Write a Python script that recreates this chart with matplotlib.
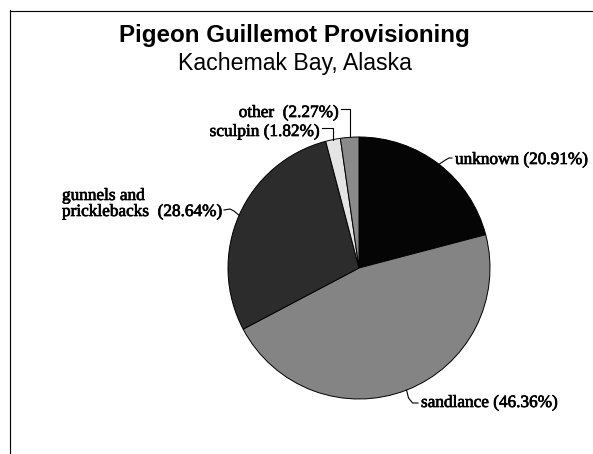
import numpy as np
import matplotlib
matplotlib.use("Agg")
import matplotlib.pyplot as plt
import matplotlib.patheffects as pe
from matplotlib.lines import Line2D

# diet composition, clockwise from 12 o'clock
categories = ["unknown", "sandlance", "gunnels and\npricklebacks", "sculpin", "other"]
percents = [20.91, 46.36, 28.64, 1.82, 2.27]
colors = ["#050505", "#848484", "#2c2c2c", "#e4e4e4", "#8a8a8a"]

W, H = 593, 454
fig = plt.figure(figsize=(W / 100, H / 100), dpi=100)
ax = fig.add_axes([0, 0, 1, 1])

cx, cy, r = 359, H - 268, 131
wedges, _ = ax.pie(percents, colors=colors, startangle=90, counterclock=False,
                   center=(cx, cy), radius=r,
                   wedgeprops=dict(edgecolor="black", linewidth=0.7))
ax.set_xlim(0, W)
ax.set_ylim(0, H)
ax.set_aspect("equal")
ax.axis("off")

# points on the rim at the middle of each wedge
def rim(w):
    a = np.deg2rad((w.theta1 + w.theta2) / 2)
    return cx + r * np.cos(a), cy + r * np.sin(a)

# scanned serif labels look a bit heavier than plain Times
lab_font = dict(family="Liberation Serif", fontsize=12.4, color="black",
                path_effects=[pe.withStroke(linewidth=0.5, foreground="black")])

def py(y):
    return H - y

# unknown
x0, y0 = rim(wedges[0])
ax.plot([x0, x0 + 6, x0 + 10, 452], [y0, y0 + 4, py(158), py(158)], color="black", lw=0.8)
ax.text(455, py(160), f"{categories[0]} ({percents[0]:.2f}%)", ha="left", va="center", **lab_font)

# sandlance
x0, y0 = rim(wedges[1])
ax.plot([x0, x0 + 2, x0 + 6, 418], [y0, py(398), py(403), py(403)], color="black", lw=0.8)
ax.text(421, py(403), f"{categories[1]} ({percents[1]:.2f}%)", ha="left", va="center", **lab_font)

# gunnels and pricklebacks
x0, y0 = rim(wedges[2])
ax.plot([224, 230, 234, x0], [py(210), py(209), py(211), y0], color="black", lw=0.8)
ax.text(62, py(204), f"{categories[2]}  ({percents[2]:.2f}%)", ha="left", va="center",
        linespacing=1.0, **lab_font)

# sculpin
x0, y0 = rim(wedges[3])
ax.plot([322, x0, x0], [py(128), py(128), y0], color="black", lw=0.8)
ax.text(320, py(132), f"{categories[3]} ({percents[3]:.2f}%)", ha="right", va="center", **lab_font)

# other
x0, y0 = rim(wedges[4])
ax.plot([341, x0, x0], [py(109), py(109), y0], color="black", lw=0.8)
ax.text(339, py(113), f"{categories[4]}  ({percents[4]:.2f}%)", ha="right", va="center", **lab_font)

# titles
fig.text(0.497, 1 - 42 / H, "Pigeon Guillemot Provisioning", ha="center", va="baseline",
         family="Liberation Sans", fontsize=17.4, fontweight="bold")
fig.text(0.497, 1 - 70 / H, "Kachemak Bay, Alaska", ha="center", va="baseline",
         family="Liberation Sans", fontsize=16.7)

# frame (left and top only)
fig.add_artist(Line2D([10 / W, 10 / W], [0, 1 - 10 / H], color="black", lw=0.8))
fig.add_artist(Line2D([10 / W, 1], [1 - 11 / H, 1 - 11 / H], color="black", lw=0.8))

fig.savefig("out.png", dpi=100)
